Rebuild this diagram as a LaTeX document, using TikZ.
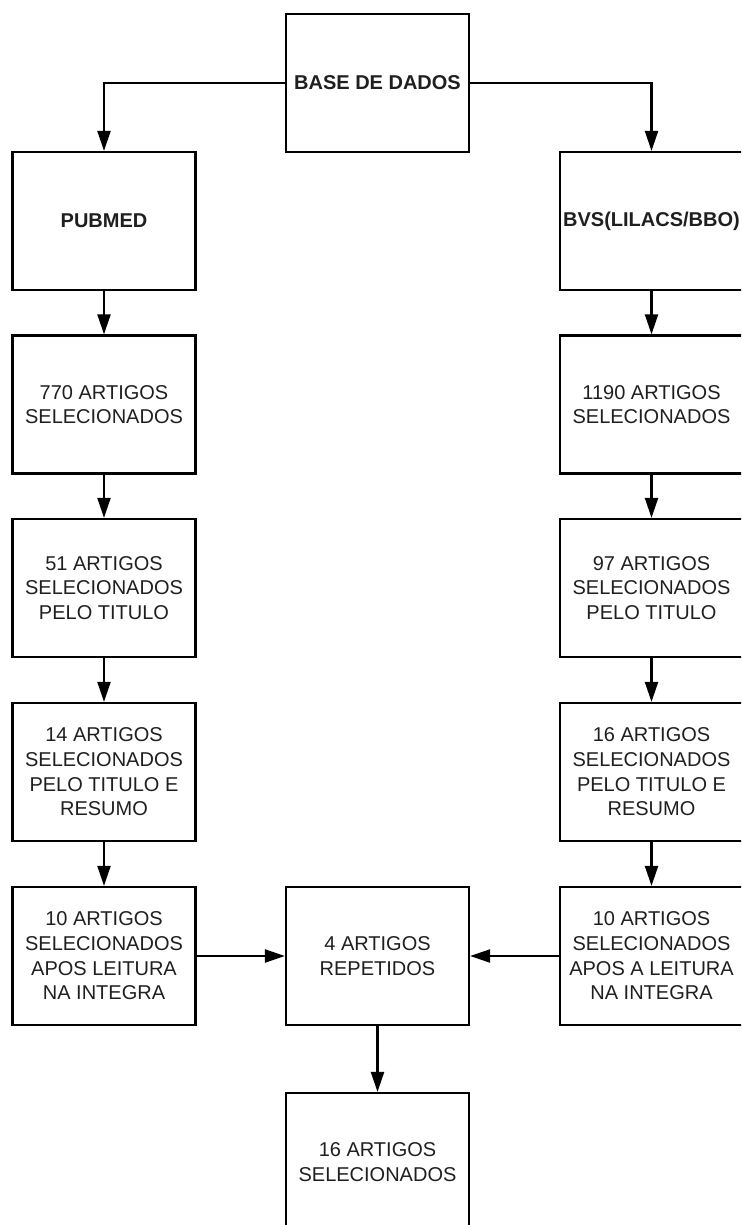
\documentclass[tikz,border=0pt]{standalone}
\usepackage{fontspec}
\setmainfont{Liberation Sans}
\usetikzlibrary{arrows.meta}
\begin{document}
\begin{tikzpicture}[x=1pt,y=1pt,
  box/.style={draw=black, line width=2.2pt, minimum width=183pt, minimum height=138pt,
    inner sep=0pt, align=center, text=black!88,
    font=\fontsize{20}{24.7}\selectfont},
  boldbox/.style={box, font=\fontsize{20}{24.7}\selectfont\bfseries},
  arr/.style={draw=black, line width=2.2pt, -{Triangle[width=13pt,length=20pt]}}]
\clip (0,0) rectangle (741,-1225);
\useasboundingbox (0,0) rectangle (741,-1225);
% nodes
\node[boldbox] (base) at (377.5,-83) {BASE DE DADOS};
\node[boldbox] (pub) at (104,-221) {PUBMED};
\node[boldbox] (bvs) at (651.5,-221) {BVS(LILACS/BBO)};
\node[box] (l2) at (104,-404.5) {770 ARTIGOS\\SELECIONADOS};
\node[box] (r2) at (651.5,-404.5) {1190 ARTIGOS\\SELECIONADOS};
\node[box] (l3) at (104,-588) {51 ARTIGOS\\SELECIONADOS\\PELO TITULO};
\node[box] (r3) at (651.5,-588) {97 ARTIGOS\\SELECIONADOS\\PELO TITULO};
\node[box] (l4) at (104,-772) {14 ARTIGOS\\SELECIONADOS\\PELO TITULO E\\RESUMO};
\node[box] (r4) at (651.5,-772) {16 ARTIGOS\\SELECIONADOS\\PELO TITULO E\\RESUMO};
\node[box] (l5) at (104,-956) {10 ARTIGOS\\SELECIONADOS\\APOS LEITURA\\NA INTEGRA};
\node[box] (rep) at (377.5,-956) {4 ARTIGOS\\REPETIDOS};
\node[box] (r5) at (651.5,-956) {10 ARTIGOS\\SELECIONADOS\\APOS A LEITURA\\NA INTEGRA};
\node[box] (fin) at (377.5,-1162) {16 ARTIGOS\\SELECIONADOS};
% connectors
\draw[arr] (base.west) -| (pub.north);
\draw[arr] (base.east) -| (bvs.north);
\draw[arr] (pub) -- (l2);
\draw[arr] (bvs) -- (r2);
\draw[arr] (l2) -- (l3);
\draw[arr] (r2) -- (r3);
\draw[arr] (l3) -- (l4);
\draw[arr] (r3) -- (r4);
\draw[arr] (l4) -- (l5);
\draw[arr] (r4) -- (r5);
\draw[arr] (l5) -- (rep);
\draw[arr] (r5) -- (rep);
\draw[arr] (rep) -- (fin);
\end{tikzpicture}
\end{document}
